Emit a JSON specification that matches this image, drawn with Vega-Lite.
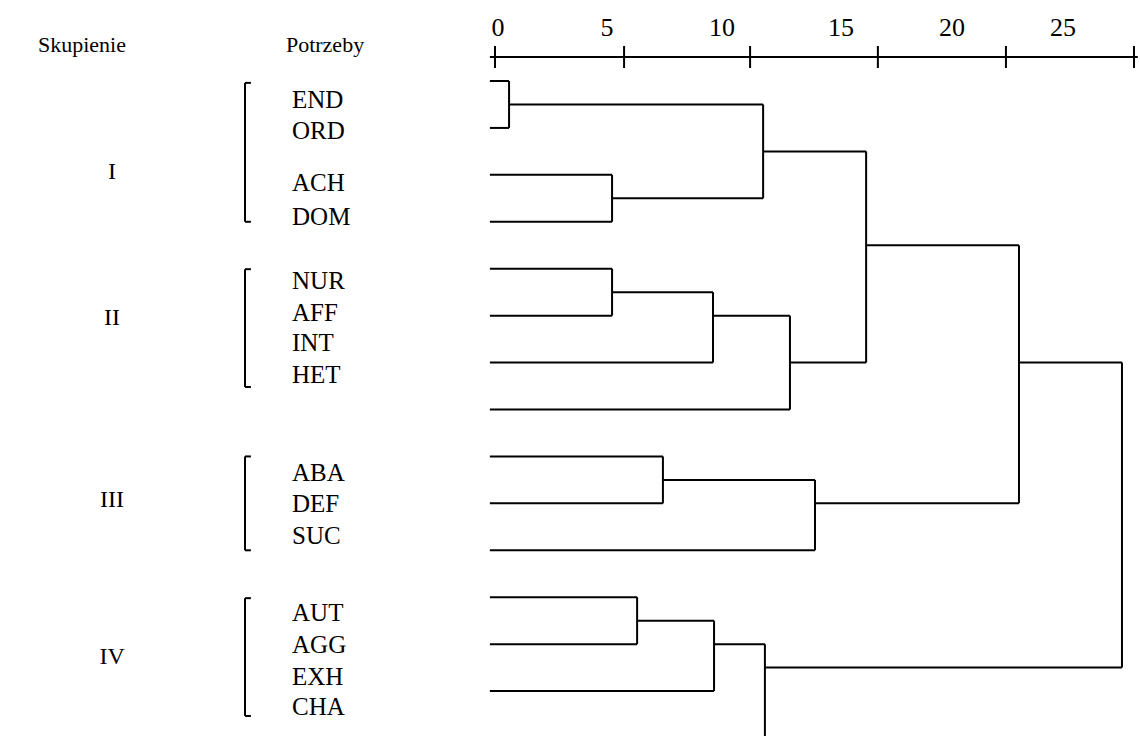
{
  "$schema": "https://vega.github.io/schema/vega-lite/v6.json",
  "width": 1140,
  "height": 736,
  "padding": 0,
  "autosize": {"type": "fit", "contains": "padding"},
  "background": "white",
  "config": {"view": {"stroke": null}},
  "datasets": {
    "segments": [
      {"part": "leaf", "x1": -0.2, "x2": 0.55, "y1": 1, "y2": 1},
      {"part": "leaf", "x1": -0.2, "x2": 0.55, "y1": 2, "y2": 2},
      {"part": "leaf", "x1": -0.2, "x2": 4.58, "y1": 3, "y2": 3},
      {"part": "leaf", "x1": -0.2, "x2": 4.58, "y1": 4, "y2": 4},
      {"part": "leaf", "x1": -0.2, "x2": 4.58, "y1": 5, "y2": 5},
      {"part": "leaf", "x1": -0.2, "x2": 4.58, "y1": 6, "y2": 6},
      {"part": "leaf", "x1": -0.2, "x2": 8.53, "y1": 7, "y2": 7},
      {"part": "leaf", "x1": -0.2, "x2": 11.54, "y1": 8, "y2": 8},
      {"part": "leaf", "x1": -0.2, "x2": 6.57, "y1": 9, "y2": 9},
      {"part": "leaf", "x1": -0.2, "x2": 6.57, "y1": 10, "y2": 10},
      {"part": "leaf", "x1": -0.2, "x2": 12.52, "y1": 11, "y2": 11},
      {"part": "leaf", "x1": -0.2, "x2": 5.56, "y1": 12, "y2": 12},
      {"part": "leaf", "x1": -0.2, "x2": 5.56, "y1": 13, "y2": 13},
      {"part": "leaf", "x1": -0.2, "x2": 8.57, "y1": 14, "y2": 14},
      {"part": "leaf", "x1": -0.2, "x2": 10.56, "y1": 15, "y2": 15},
      {"part": "link", "x1": 0.55, "x2": 0.55, "y1": 1, "y2": 2},
      {"part": "link", "x1": 0.55, "x2": 10.49, "y1": 1.5, "y2": 1.5},
      {"part": "link", "x1": 4.58, "x2": 4.58, "y1": 3, "y2": 4},
      {"part": "link", "x1": 4.58, "x2": 10.49, "y1": 3.5, "y2": 3.5},
      {"part": "link", "x1": 10.49, "x2": 10.49, "y1": 1.5, "y2": 3.5},
      {"part": "link", "x1": 10.49, "x2": 14.52, "y1": 2.5, "y2": 2.5},
      {"part": "link", "x1": 4.58, "x2": 4.58, "y1": 5, "y2": 6},
      {"part": "link", "x1": 4.58, "x2": 8.53, "y1": 5.5, "y2": 5.5},
      {"part": "link", "x1": 8.53, "x2": 8.53, "y1": 5.5, "y2": 7},
      {"part": "link", "x1": 8.53, "x2": 11.54, "y1": 6, "y2": 6},
      {"part": "link", "x1": 11.54, "x2": 11.54, "y1": 6, "y2": 8},
      {"part": "link", "x1": 11.54, "x2": 14.52, "y1": 7, "y2": 7},
      {"part": "link", "x1": 14.52, "x2": 14.52, "y1": 2.5, "y2": 7},
      {"part": "link", "x1": 14.52, "x2": 20.5, "y1": 4.5, "y2": 4.5},
      {"part": "link", "x1": 6.57, "x2": 6.57, "y1": 9, "y2": 10},
      {"part": "link", "x1": 6.57, "x2": 12.52, "y1": 9.5, "y2": 9.5},
      {"part": "link", "x1": 12.52, "x2": 12.52, "y1": 9.5, "y2": 11},
      {"part": "link", "x1": 12.52, "x2": 20.5, "y1": 10, "y2": 10},
      {"part": "link", "x1": 20.5, "x2": 20.5, "y1": 4.5, "y2": 10},
      {"part": "link", "x1": 20.5, "x2": 24.53, "y1": 7, "y2": 7},
      {"part": "link", "x1": 5.56, "x2": 5.56, "y1": 12, "y2": 13},
      {"part": "link", "x1": 5.56, "x2": 8.57, "y1": 12.5, "y2": 12.5},
      {"part": "link", "x1": 8.57, "x2": 8.57, "y1": 12.5, "y2": 14},
      {"part": "link", "x1": 8.57, "x2": 10.56, "y1": 13, "y2": 13},
      {"part": "link", "x1": 10.56, "x2": 10.56, "y1": 13, "y2": 15.2},
      {"part": "link", "x1": 10.56, "x2": 24.53, "y1": 13.5, "y2": 13.5},
      {"part": "link", "x1": 24.53, "x2": 24.53, "y1": 7, "y2": 13.5},
      {"part": "axis", "x1": -0.2, "x2": 25.15, "y1": 0.49, "y2": 0.49},
      {"part": "tick", "x1": 0, "x2": 0, "y1": 0.254, "y2": 0.723},
      {"part": "tick", "x1": 5.05, "x2": 5.05, "y1": 0.254, "y2": 0.723},
      {"part": "tick", "x1": 9.98, "x2": 9.98, "y1": 0.254, "y2": 0.723},
      {"part": "tick", "x1": 14.98, "x2": 14.98, "y1": 0.254, "y2": 0.723},
      {"part": "tick", "x1": 19.99, "x2": 19.99, "y1": 0.254, "y2": 0.723},
      {"part": "tick", "x1": 25.0, "x2": 25.0, "y1": 0.254, "y2": 0.723},
      {"part": "bracket", "x1": -9.78, "x2": -9.78, "y1": 1.04, "y2": 4.0},
      {"part": "bracket", "x1": -9.78, "x2": -9.55, "y1": 1.04, "y2": 1.04},
      {"part": "bracket", "x1": -9.78, "x2": -9.55, "y1": 4.0, "y2": 4.0},
      {"part": "bracket", "x1": -9.78, "x2": -9.78, "y1": 5.01, "y2": 7.52},
      {"part": "bracket", "x1": -9.78, "x2": -9.55, "y1": 5.01, "y2": 5.01},
      {"part": "bracket", "x1": -9.78, "x2": -9.55, "y1": 7.52, "y2": 7.52},
      {"part": "bracket", "x1": -9.78, "x2": -9.78, "y1": 9.0, "y2": 11.0},
      {"part": "bracket", "x1": -9.78, "x2": -9.55, "y1": 9.0, "y2": 9.0},
      {"part": "bracket", "x1": -9.78, "x2": -9.55, "y1": 11.0, "y2": 11.0},
      {"part": "bracket", "x1": -9.78, "x2": -9.78, "y1": 12.02, "y2": 14.53},
      {"part": "bracket", "x1": -9.78, "x2": -9.55, "y1": 12.02, "y2": 12.02},
      {"part": "bracket", "x1": -9.78, "x2": -9.55, "y1": 14.53, "y2": 14.53}
    ],
    "ticklabels": [
      {"label": "0", "x": 0.12, "y": -0.13},
      {"label": "5", "x": 4.38, "y": -0.13},
      {"label": "10", "x": 8.88, "y": -0.13},
      {"label": "15", "x": 13.54, "y": -0.13},
      {"label": "20", "x": 17.88, "y": -0.13},
      {"label": "25", "x": 22.22, "y": -0.13}
    ],
    "headers": [
      {"label": "Skupienie", "x": -16.16, "y": 0.234},
      {"label": "Potrzeby", "x": -6.65, "y": 0.234}
    ],
    "clusters": [
      {"label": "I", "x": -14.98, "y": 2.94},
      {"label": "II", "x": -14.98, "y": 6.05},
      {"label": "III", "x": -14.98, "y": 9.93},
      {"label": "IV", "x": -14.98, "y": 13.27}
    ],
    "needs": [
      {"label": "END", "x": -7.94, "y": 1.405},
      {"label": "ORD", "x": -7.94, "y": 2.066},
      {"label": "ACH", "x": -7.94, "y": 3.173},
      {"label": "DOM", "x": -7.94, "y": 3.898},
      {"label": "NUR", "x": -7.94, "y": 5.262},
      {"label": "AFF", "x": -7.94, "y": 5.944},
      {"label": "INT", "x": -7.94, "y": 6.583},
      {"label": "HET", "x": -7.94, "y": 7.265},
      {"label": "ABA", "x": -7.94, "y": 9.353},
      {"label": "DEF", "x": -7.94, "y": 10.013},
      {"label": "SUC", "x": -7.94, "y": 10.695},
      {"label": "AUT", "x": -7.94, "y": 12.336},
      {"label": "AGG", "x": -7.94, "y": 13.018},
      {"label": "EXH", "x": -7.94, "y": 13.70},
      {"label": "CHA", "x": -7.94, "y": 14.34}
    ]
  },
  "resolve": {"scale": {"x": "shared", "y": "shared"}},
  "layer": [
    {
      "data": {"name": "segments"},
      "mark": {"type": "rule", "color": "black", "strokeWidth": 2, "clip": true},
      "encoding": {
        "x": {"field": "x1", "type": "quantitative", "axis": null,
              "scale": {"domain": [-19.366, 25.235], "nice": false, "zero": false}},
        "x2": {"field": "x2"},
        "y": {"field": "y1", "type": "quantitative", "axis": null,
              "scale": {"domain": [-0.726, 14.957], "reverse": true, "nice": false, "zero": false}},
        "y2": {"field": "y2"}
      }
    },
    {
      "data": {"name": "ticklabels"},
      "mark": {"type": "text", "font": "Liberation Serif", "fontSize": 26, "align": "center", "baseline": "middle", "color": "black"},
      "encoding": {
        "x": {"field": "x", "type": "quantitative"},
        "y": {"field": "y", "type": "quantitative"},
        "text": {"field": "label"}
      }
    },
    {
      "data": {"name": "headers"},
      "mark": {"type": "text", "font": "Liberation Serif", "fontSize": 22, "align": "center", "baseline": "middle", "color": "black"},
      "encoding": {
        "x": {"field": "x", "type": "quantitative"},
        "y": {"field": "y", "type": "quantitative"},
        "text": {"field": "label"}
      }
    },
    {
      "data": {"name": "clusters"},
      "mark": {"type": "text", "font": "Liberation Serif", "fontSize": 24, "align": "center", "baseline": "middle", "color": "black"},
      "encoding": {
        "x": {"field": "x", "type": "quantitative"},
        "y": {"field": "y", "type": "quantitative"},
        "text": {"field": "label"}
      }
    },
    {
      "data": {"name": "needs"},
      "mark": {"type": "text", "font": "Liberation Serif", "fontSize": 25, "align": "left", "baseline": "middle", "color": "black"},
      "encoding": {
        "x": {"field": "x", "type": "quantitative"},
        "y": {"field": "y", "type": "quantitative"},
        "text": {"field": "label"}
      }
    }
  ]
}
